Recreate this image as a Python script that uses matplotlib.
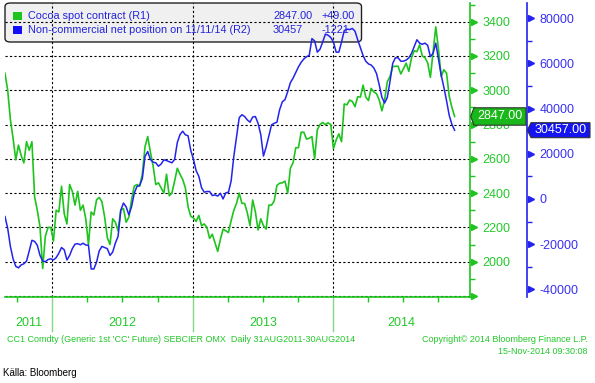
import pandas as pd
import matplotlib
matplotlib.use("Agg")
import matplotlib.pyplot as plt
import matplotlib.dates as mdates
import matplotlib.transforms as mtransforms
from matplotlib.patches import FancyBboxPatch, Polygon, Rectangle
from matplotlib.ticker import MultipleLocator, FixedLocator

plt.rcParams['font.family'] = ['Liberation Sans', 'DejaVu Sans']

# weekly readings, starting 31 Aug 2011
start = "2011-08-31"
cocoa = [
    3099, 3000, 2830, 2720, 2594, 2680, 2620, 2576, 2700, 2650,
    2700, 2378, 2300, 2203, 1960, 2150, 2200, 2200, 2120, 2300,
    2290, 2440, 2280, 2220, 2450, 2410, 2330, 2410, 2300, 2330,
    2250, 2100, 2290, 2272, 2360, 2375, 2350, 2261, 2140, 2100,
    2250, 2230, 2180, 2300, 2310, 2230, 2260, 2360, 2440, 2450,
    2440, 2510, 2670, 2730, 2640, 2560, 2450, 2460, 2430, 2400,
    2510, 2385, 2400, 2470, 2545, 2510, 2480, 2430, 2320, 2265,
    2255, 2235, 2270, 2210, 2220, 2200, 2136, 2160, 2110, 2060,
    2130, 2190, 2180, 2170, 2240, 2300, 2340, 2400, 2340, 2340,
    2285, 2210, 2360, 2290, 2185, 2250, 2210, 2190, 2330, 2330,
    2355, 2445, 2458, 2460, 2470, 2400, 2545, 2577, 2665, 2665,
    2755, 2755, 2715, 2720, 2730, 2600, 2770, 2800, 2812, 2800,
    2810, 2800, 2660, 2710, 2745, 2700, 2920, 2915, 2943, 2935,
    2904, 2962, 2960, 3030, 2960, 2940, 3011, 2990, 2980, 2943,
    2880, 2943, 3050, 3080, 3138, 3140, 3140, 3095, 3125, 3158,
    3110, 3190, 3230, 3225, 3265, 3200, 3190, 3160, 3075, 3225,
    3370, 3240, 3080, 3120, 3100, 2965, 2900, 2847,
]
netpos = [
    -7800, -13000, -21000, -26500, -29800, -30500, -29200, -28700, -27500, -23000,
    -18300, -18800, -20500, -25000, -27500, -27800, -26800, -26500, -27000, -26000,
    -24000, -21500, -22500, -27000, -25000, -22000, -20000, -19800, -20300, -19600,
    -20400, -20500, -31000, -31000, -28000, -23000, -21000, -21500, -22000, -25000,
    -23500, -19500, -16600, -5000, -1800, -3500, -7000, -3500, 2500, 5500,
    6000, 9000, 18800, 21000, 17500, 16300, 16000, 14500, 15500, 17300,
    17000, 16500, 16000, 17500, 25000, 28500, 30000, 28400, 28000, 21500,
    17500, 12500, 10000, 5000, 3000, 3300, 3300, 1500, 1800, 1300,
    2500, 0, 2700, 3000, 8000, 19000, 27500, 36000, 37300, 36500,
    35000, 34000, 36300, 36500, 33500, 28500, 19000, 23000, 28000, 32800,
    33500, 34000, 39500, 43000, 44000, 47500, 51500, 53500, 56000, 58500,
    60500, 62000, 63000, 63600, 71000, 70000, 65000, 66300, 69500, 73000,
    72500, 71500, 69500, 65000, 65000, 69500, 74500, 75200, 75000, 75500,
    74300, 70500, 67000, 63500, 61000, 59800, 59300, 58000, 55500, 50500,
    45000, 42500, 45000, 52000, 60000, 62500, 62500, 61000, 61000, 61500,
    62500, 64500, 67500, 70500, 69000, 68500, 69000, 68000, 63000, 64500,
    69000, 62000, 55000, 49500, 43500, 37000, 33000, 30457,
]
cocoa_ticks = list(range(1800, 3401, 200))
netpos_ticks = list(range(-40000, 80001, 20000))
years = [2011, 2012, 2013, 2014]

dates = pd.date_range(start, periods=len(cocoa), freq="7D")

W, H = 595, 383
GREEN = '#1ec41e'
GREEN_TXT = '#22c82a'
BLUE = '#2323ee'
BLUE_TXT = '#3a30f0'

fig = plt.figure(figsize=(W / 100, H / 100), dpi=100)
# plot box in pixels: x 5..470, y 3..297
ax = fig.add_axes([5 / W, 86 / H, 465 / W, 294 / H])
ax.patch.set_visible(False)
x0, x1 = pd.Timestamp('2011-08-31'), pd.Timestamp('2014-12-22')

ax.plot(dates, cocoa, color=GREEN, lw=1.2, zorder=3)
ax.set_xlim(x0, x1)
ax.set_ylim(1794, 3509)

for s in ['left', 'top']:
    ax.spines[s].set_visible(False)
for s in ['right', 'bottom']:
    ax.spines[s].set_color(GREEN)
    ax.spines[s].set_linewidth(1.2)

# dotted grid
for t in cocoa_ticks:
    ax.axhline(t, color='k', lw=0.8, ls=(0, (2, 2)), zorder=1)
year_starts = [pd.Timestamp(f'{y}-01-01') for y in years[1:]]
for d in year_starts:
    ax.axvline(d, color='k', lw=0.8, ls=(0, (2, 2)), zorder=1)

# x axis: quarter ticks, year separators, year labels
ax.xaxis.set_major_locator(FixedLocator(mdates.date2num(year_starts)))
ax.xaxis.set_minor_locator(mdates.MonthLocator(bymonth=[4, 7, 10]))
ax.tick_params(axis='x', which='both', labelbottom=False)
ax.tick_params(axis='x', which='major', length=0)
ax.tick_params(axis='x', which='minor', length=3.5, width=1, color=GREEN)
tr_x = mtransforms.blended_transform_factory(ax.transData, ax.transAxes)
for d in year_starts:
    ax.plot([d, d], [0, -34 / 294], color='#86d886', lw=1, transform=tr_x,
            clip_on=False)
edges = [x0] + year_starts + [x1]
for i, y in enumerate(years):
    mid = edges[i] + (edges[i + 1] - edges[i]) / 2
    ax.text(mid, -26 / 294, str(y), transform=tr_x, ha='center', va='center',
            fontsize=9, color=GREEN_TXT)

# legend box (sits under the grid and lines)
def axp(x, y):
    return (x - 5) / 465, (297 - y) / 294

bx, by = axp(5, 42)
bw, bh = 356.5 / 465, 39 / 294
ax.add_patch(FancyBboxPatch((bx, by), bw, bh, transform=ax.transAxes,
                            boxstyle='round,pad=0,rounding_size=0.012',
                            facecolor='#f0f0f0', edgecolor='#222222', lw=1,
                            zorder=0.5, clip_on=False))
rows = [
    (GREEN, 'Cocoa spot contract (R1)', '2847.00', '+49.00', 16),
    ('#1010f8', 'Non-commercial net position on 11/11/14 (R2)', '30457', '-1221', 30),
]
for col, name, val, chg, yy in rows:
    sx, sy = axp(13, yy + 4.3)
    ax.add_patch(Rectangle((sx, sy), 9 / 465, 8.5 / 294, transform=ax.transAxes,
                           facecolor=col, edgecolor='none', zorder=1.5,
                           clip_on=False))
    for xx, s in [(28, name), (273, val), (322, chg)]:
        tx, ty = axp(xx, yy)
        ax.text(tx, ty, s, transform=ax.transAxes, ha='left', va='center',
                fontsize=7.8, color='#2222dd', zorder=1.5)

# second axis: net position
ax2 = ax.twinx()
ax2.patch.set_visible(False)
ax2.plot(dates, netpos, color=BLUE, lw=1.1, zorder=3)
ax2.set_ylim(-43407, 86770)
for s in ['left', 'top', 'bottom']:
    ax2.spines[s].set_visible(False)
ax2.spines['right'].set_position(('axes', 1 + 57 / 465))
ax2.spines['right'].set_color(BLUE)
ax2.spines['right'].set_linewidth(1.2)
ax2.set_yticks(netpos_ticks)
ax2.set_yticklabels([str(t) for t in netpos_ticks])
ax2.yaxis.set_minor_locator(MultipleLocator(10000))
ax2.tick_params(axis='y', which='major', length=0, pad=9, labelsize=9,
                labelcolor=BLUE_TXT)
ax2.tick_params(axis='y', which='minor', length=3.5, width=1, color=BLUE)
tr_y2 = mtransforms.blended_transform_factory(ax2.transAxes, ax2.transData)
ax2.plot([1 + 60.5 / 465] * len(netpos_ticks), netpos_ticks, ls='none',
         marker='>', ms=5, color=BLUE, transform=tr_y2, clip_on=False)

# green price axis on the right (twinx moved it to the left)
ax.yaxis.tick_right()
ax.set_yticks(cocoa_ticks)
ax.set_yticklabels([''] + [str(t) for t in cocoa_ticks[1:]])
ax.yaxis.set_minor_locator(MultipleLocator(100))
ax.tick_params(axis='y', which='both', left=False, labelleft=False,
               right=True, labelright=True)
ax.tick_params(axis='y', which='major', length=0, pad=9, labelsize=9,
               labelcolor=GREEN_TXT)
ax.tick_params(axis='y', which='minor', length=3.5, width=1, color=GREEN)
tr_y = mtransforms.blended_transform_factory(ax.transAxes, ax.transData)
ax.plot([1 + 3.5 / 465] * len(cocoa_ticks), cocoa_ticks, ls='none', marker='>',
        ms=5, color=GREEN, transform=tr_y, clip_on=False, zorder=5)

# last-value tags
ident = mtransforms.IdentityTransform()
gy = ax.transData.transform((0, cocoa[-1]))[1]
fig.add_artist(Polygon([(470.7, gy), (474, gy + 8.7), (526, gy + 8.7),
                        (526, gy - 8.7), (474, gy - 8.7)], closed=True,
                       transform=ident, facecolor='#18b818',
                       edgecolor='#333333', lw=0.8))
fig.text(500 / W, gy / H, '2847.00', ha='center', va='center', fontsize=9,
         color='white')
by2 = ax2.transData.transform((0, netpos[-1]))[1]
fig.add_artist(Polygon([(527.3, by2), (531, by2 + 7.5), (590, by2 + 7.5),
                        (590, by2 - 7.5), (531, by2 - 7.5)], closed=True,
                       transform=ident, facecolor='#1414f0',
                       edgecolor='#333333', lw=0.8))
fig.text(560.5 / W, by2 / H, '30457.00', ha='center', va='center', fontsize=9,
         color='white')

# footer
fig.text(7 / W, 1 - 340 / H,
         "CC1 Comdty (Generic 1st 'CC' Future) SEBCIER OMX  Daily 31AUG2011-30AUG2014",
         ha='left', va='center', fontsize=6.5, color=GREEN_TXT)
fig.text(588 / W, 1 - 340 / H, 'Copyright\u00a9 2014 Bloomberg Finance L.P.',
         ha='right', va='center', fontsize=6.5, color=GREEN_TXT)
fig.text(588 / W, 1 - 352 / H, '15-Nov-2014 09:30:08',
         ha='right', va='center', fontsize=6.5, color=GREEN_TXT)
fig.text(3 / W, 1 - 373 / H, 'Källa: Bloomberg', ha='left', va='center',
         fontsize=7, color='black',
         family=['Liberation Sans Narrow', 'Liberation Sans', 'DejaVu Sans'])

fig.savefig('out.png', dpi=100)
